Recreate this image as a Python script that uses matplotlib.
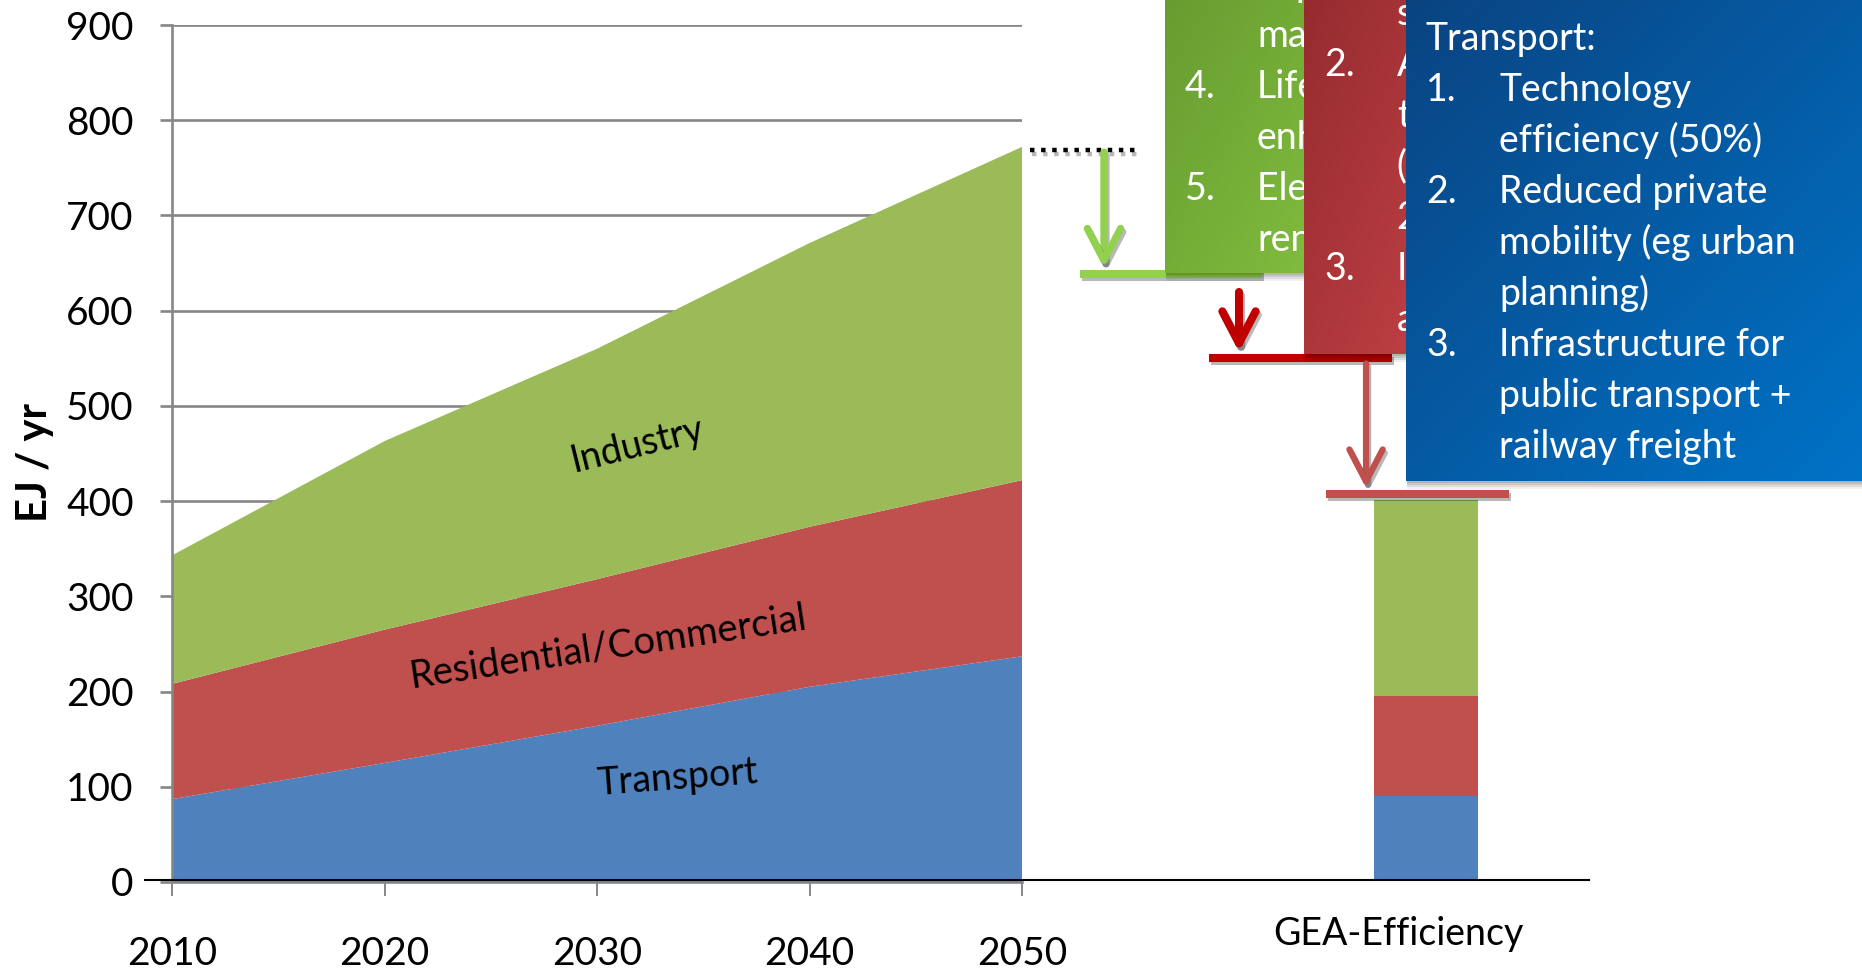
import numpy as np
import matplotlib
matplotlib.use("Agg")
import matplotlib.pyplot as plt
from matplotlib.colors import LinearSegmentedColormap
from matplotlib.patches import Rectangle, FancyArrowPatch, ArrowStyle
import matplotlib.patheffects as pe

# ---------------- data ----------------
years = [2010, 2020, 2030, 2040, 2050]
transport = [87, 125, 164, 205, 237]
residential = [121, 140, 154, 168, 185]
industry = [135, 198, 242, 298, 350]
sector_labels = ["Transport", "Residential/Commercial", "Industry"]
y_ticks = [0, 100, 200, 300, 400, 500, 600, 700, 800, 900]

bar_category = ["GEA-Efficiency"]
bar_transport = [88]
bar_residential = [105]
bar_industry = [206]

# reduction steps, EJ/yr (baseline 2050 -> industry -> residential -> transport)
step_levels = [766, 636, 548, 405]

transport_text = ["Transport:",
                  ("1.", "Technology"), ("", "efficiency (50%)"),
                  ("2.", "Reduced private"), ("", "mobility (eg urban"), ("", "planning)"),
                  ("3.", "Infrastructure for"), ("", "public transport +"), ("", "railway freight")]
residential_text = [("1.", "Building codes &"), ("", "standards"),
                    ("2.", "Advanced"), ("", "technologies"), ("", "(heat pumps,"), ("", "2x efficiency)"),
                    ("3.", "Improved"), ("", "appliances")]
industry_text = [("", "improved"), ("", "materials"),
                 ("4.", "Lifetime"), ("", "enhancement"),
                 ("5.", "Electricity from"), ("", "renewables")]

C_BLUE, C_RED, C_GREEN = "#4f81bd", "#c0504d", "#9bbb59"
GRAY = "#868686"
NUM_FONT = ["Liberation Sans Narrow", "Lato", "DejaVu Sans"]
TXT_FONT = ["Lato", "DejaVu Sans"]

W, H = 1862, 974
fig = plt.figure(figsize=(W / 100, H / 100), dpi=100)


def px_rect(l, t, r, b):
    return [l / W, 1 - b / H, (r - l) / W, (b - t) / H]


# ---------------- area chart ----------------
ax1 = fig.add_axes(px_rect(172, 25, 1022, 882))
ax1.set_zorder(0)
ax1.stackplot(years, transport, residential, industry,
              colors=[C_BLUE, C_RED, C_GREEN], linewidth=0, zorder=2)
ax1.set_xlim(2010, 2050)
ax1.set_ylim(0, 900)
ax1.set_yticks(y_ticks)
ax1.set_xticks(years)
ax1.grid(axis="y", color=GRAY, linewidth=1.9, zorder=0)
ax1.set_axisbelow(True)
for s in ["top", "right"]:
    ax1.spines[s].set_visible(False)
for s in ["left", "bottom"]:
    ax1.spines[s].set_color(GRAY)
    ax1.spines[s].set_linewidth(1.9)
    ax1.spines[s].set_zorder(3)
ax1.tick_params(axis="y", length=8.6, width=1.9, color=GRAY, pad=19)
ax1.tick_params(axis="x", length=10, width=1.4, color=GRAY, pad=29)
for lab in ax1.get_yticklabels() + ax1.get_xticklabels():
    lab.set_fontfamily(NUM_FONT)
    lab.set_fontsize(28)
ax1.set_ylabel("EJ / yr", fontsize=30, fontweight="bold", family=TXT_FONT)
ax1.yaxis.set_label_coords(-0.139, 0.49)

ax1.text(2031.9, 459, sector_labels[2], rotation=14, rotation_mode="anchor",
         ha="center", va="center", fontsize=27, family=TXT_FONT, zorder=5)
ax1.text(2030.5, 247, sector_labels[1], rotation=8.5, rotation_mode="anchor",
         ha="center", va="center", fontsize=27.5, family=TXT_FONT, zorder=5)
ax1.text(2033.8, 109, sector_labels[0], rotation=4.3, rotation_mode="anchor",
         ha="center", va="center", fontsize=27, family=TXT_FONT, zorder=5)

# ---------------- bar chart + reduction arrows ----------------
ax2 = fig.add_axes(px_rect(145, 22.5, 1589, 879.5))
ax2.set_zorder(1)
ax2.patch.set_visible(False)
bw = 0.6
ax2.bar(0, bar_transport, width=bw, color=C_BLUE, zorder=2)
ax2.bar(0, bar_residential, width=bw, bottom=bar_transport, color=C_RED, zorder=2)
ax2.bar(0, bar_industry, width=bw,
        bottom=np.add(bar_transport, bar_residential), color=C_GREEN, zorder=2)
ax2.set_xlim(-7.39, 0.94)
ax2.set_ylim(0, 900)
ax2.set_yticks([])
ax2.set_xticks([])
for s in ["top", "right", "left"]:
    ax2.spines[s].set_visible(False)
ax2.spines["bottom"].set_color("black")
ax2.spines["bottom"].set_linewidth(1.5)
ax2.annotate(bar_category[0], xy=(0, 0), xycoords=("data", "axes fraction"),
             xytext=(-20, -47), textcoords="offset points", ha="center",
             va="baseline", fontsize=27, family=TXT_FONT, annotation_clip=False)

shadow = [pe.SimpleLineShadow(offset=(1.5, -2.5), shadow_color="k", alpha=0.28), pe.Normal()]

# dotted baseline level
ax2.plot([-2.285, -1.65], [step_levels[0]] * 2, color="black", lw=3.2,
         linestyle=(0, (1, 1.5)), dash_capstyle="butt", path_effects=shadow, zorder=3)

arrow_specs = [
    # x, start, end, line x-range, colour, shaft width
    (-1.858, step_levels[0] - 2, step_levels[1] + 6, (-1.997, -0.946), "#92d050", 5.2),
    (-1.079, step_levels[1] - 19, step_levels[2] + 6, (-1.252, -0.196), "#c00000", 5.8),
    (-0.346, step_levels[2] - 6, step_levels[3] + 6, (-0.577, 0.479), "#c0504d", 4.5),
]
for k, (x, y0, y1, (xl0, xl1), col, lw) in enumerate(arrow_specs):
    ax2.plot([xl0, xl1], [step_levels[k + 1]] * 2, color=col, lw=5.8,
             solid_capstyle="butt", path_effects=shadow, zorder=3)
    arr = FancyArrowPatch((x, y0), (x, y1),
                          arrowstyle=ArrowStyle("->", head_length=23, head_width=12),
                          mutation_scale=1, lw=lw, color=col, shrinkA=0, shrinkB=0,
                          capstyle="round", joinstyle="round", zorder=4,
                          path_effects=shadow)
    ax2.add_patch(arr)


# ---------------- text boxes ----------------
def gradient_box(l, t, r, b, c0, c1, z):
    for k, a in enumerate([0.10, 0.09, 0.08, 0.06]):
        off = 2 + 2 * k
        fig.add_artist(Rectangle(((l + 1) / W, 1 - (b + off) / H), (r - l + off) / W,
                                 (b + off - t) / H, transform=fig.transFigure,
                                 facecolor="black", alpha=a, edgecolor="none",
                                 zorder=z - 0.5))
    bax = fig.add_axes(px_rect(l, t, r, b))
    bax.set_zorder(z)
    bax.axis("off")
    g = np.add.outer(np.linspace(0, 0.5, 60), np.linspace(0, 0.5, 60))
    cmap = LinearSegmentedColormap.from_list("g", [c0, c1])
    bax.imshow(g, cmap=cmap, aspect="auto", extent=(0, 1, 0, 1), vmin=0, vmax=1,
               interpolation="bilinear")
    return bax


def box_lines(lines, xnum, xtxt, first_baseline, step, z):
    for i, item in enumerate(lines):
        yb = first_baseline + i * step
        if isinstance(item, str):
            fig.text(xnum / W, 1 - yb / H, item, color="white", fontsize=27,
                     family=TXT_FONT, va="baseline", ha="left", zorder=z)
        else:
            num, txt = item
            if num:
                fig.text(xnum / W, 1 - yb / H, num, color="white", fontsize=27,
                         family=TXT_FONT, va="baseline", ha="left", zorder=z)
            fig.text(xtxt / W, 1 - yb / H, txt, color="white", fontsize=27,
                     family=TXT_FONT, va="baseline", ha="left", zorder=z)


gradient_box(1165, -20, 1340, 273, "#679b30", "#82bf3f", 10)
box_lines(industry_text, 1185, 1257, -4, 51, 11)

gradient_box(1304, -20, 1460, 354, "#942b2e", "#c44247", 12)
box_lines(residential_text, 1324, 1397, -26, 51, 13)

gradient_box(1406, -20, 1880, 481, "#0a4380", "#0073c8", 14)
box_lines(transport_text, 1426, 1499, 50, 51, 15)

fig.savefig("out.png", dpi=100)
